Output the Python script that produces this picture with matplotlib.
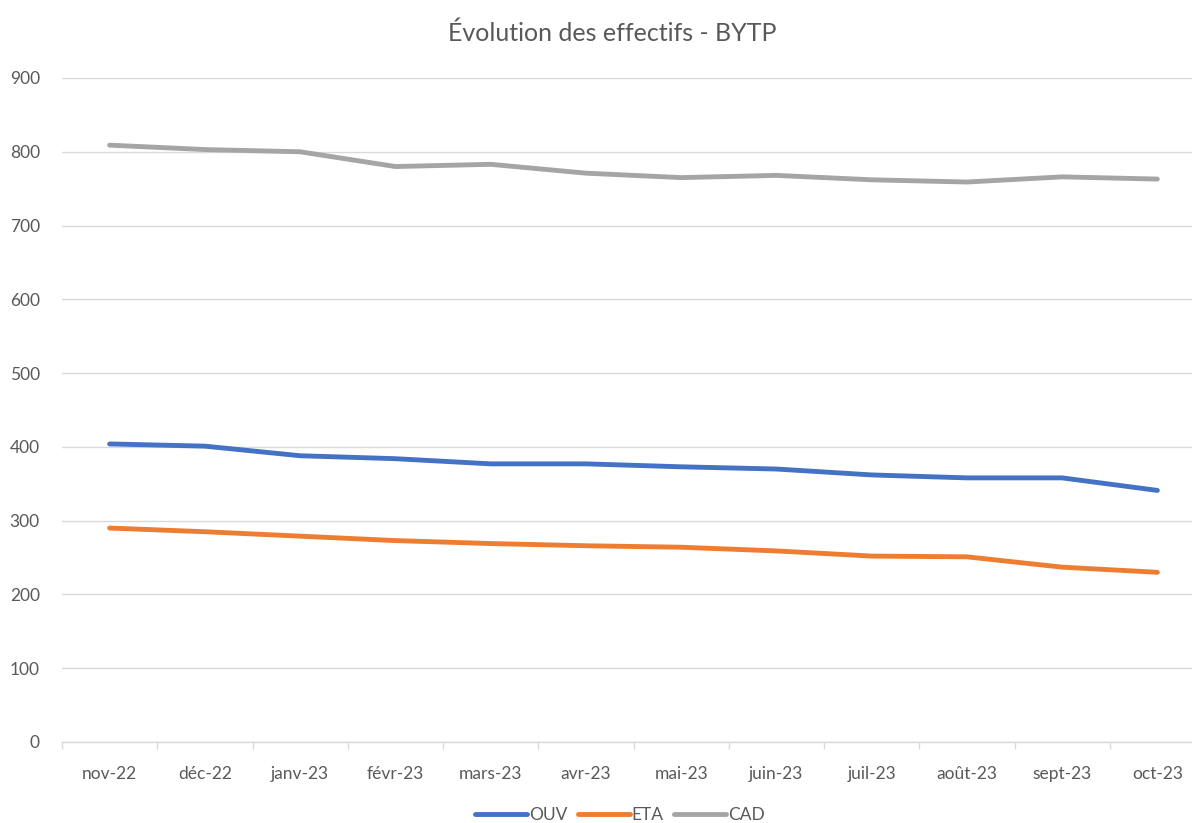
import matplotlib
matplotlib.use("Agg")
import matplotlib.pyplot as plt
import numpy as np

months = ["nov-22", "déc-22", "janv-23", "févr-23", "mars-23", "avr-23",
          "mai-23", "juin-23", "juil-23", "août-23", "sept-23", "oct-23"]
ouv = [404, 401, 388, 384, 377, 377, 373, 370, 362, 358, 358, 341]
eta = [290, 285, 279, 273, 269, 266, 264, 259, 252, 251, 237, 230]
cad = [809, 803, 800, 780, 783, 771, 765, 768, 762, 759, 766, 763]
yticks = [0, 100, 200, 300, 400, 500, 600, 700, 800, 900]

plt.rcParams['font.family'] = ['Lato', 'DejaVu Sans']
txt = "#595959"

fig = plt.figure(figsize=(11.92, 8.23), dpi=100)
ax = fig.add_axes([62/1192, 1-742/823, (1205-62)/1192, (742-78)/823])

x = np.arange(len(months))
ax.plot(x, ouv, color="#4472C4", lw=3.5, label="OUV", solid_capstyle="round")
ax.plot(x, eta, color="#ED7D31", lw=3.5, label="ETA", solid_capstyle="round")
ax.plot(x, cad, color="#A5A5A5", lw=3.5, label="CAD", solid_capstyle="round")

ax.set_xlim(-0.5, len(months)-0.5)
ax.set_ylim(0, 900)
ax.set_yticks(yticks)
ax.set_yticklabels([str(v) for v in yticks], fontsize=12.5, color=txt)
ax.set_xticks(x)
ax.set_xticklabels(months, fontsize=12.5, color=txt)
ax.set_xticks(np.arange(len(months)+1)-0.5, minor=True)
ax.tick_params(axis='x', which='major', length=0, pad=17)
ax.tick_params(axis='x', which='minor', length=5, color="#d9d9d9", width=1)
ax.tick_params(axis='y', length=0, pad=16)
for lbl in ax.get_yticklabels():
    lbl.set_horizontalalignment('right')

ax.grid(axis='y', color="#d9d9d9", lw=1)
ax.set_axisbelow(True)
for s in ["top", "right", "left"]:
    ax.spines[s].set_visible(False)
ax.spines["bottom"].set_color("#d9d9d9")
ax.spines["bottom"].set_linewidth(1)

fig.text(612/1192, 1-33/823, "Évolution des effectifs - BYTP", ha="center", va="center",
         fontsize=18, color=txt)

leg = fig.legend(loc="center", bbox_to_anchor=(620/1192, 1-815/823), ncol=3, frameon=False,
                 fontsize=12.5, handlelength=3.0, columnspacing=0.6, handletextpad=0.1)
for t in leg.get_texts():
    t.set_color(txt)

fig.savefig("out.png", dpi=100, facecolor="white")
